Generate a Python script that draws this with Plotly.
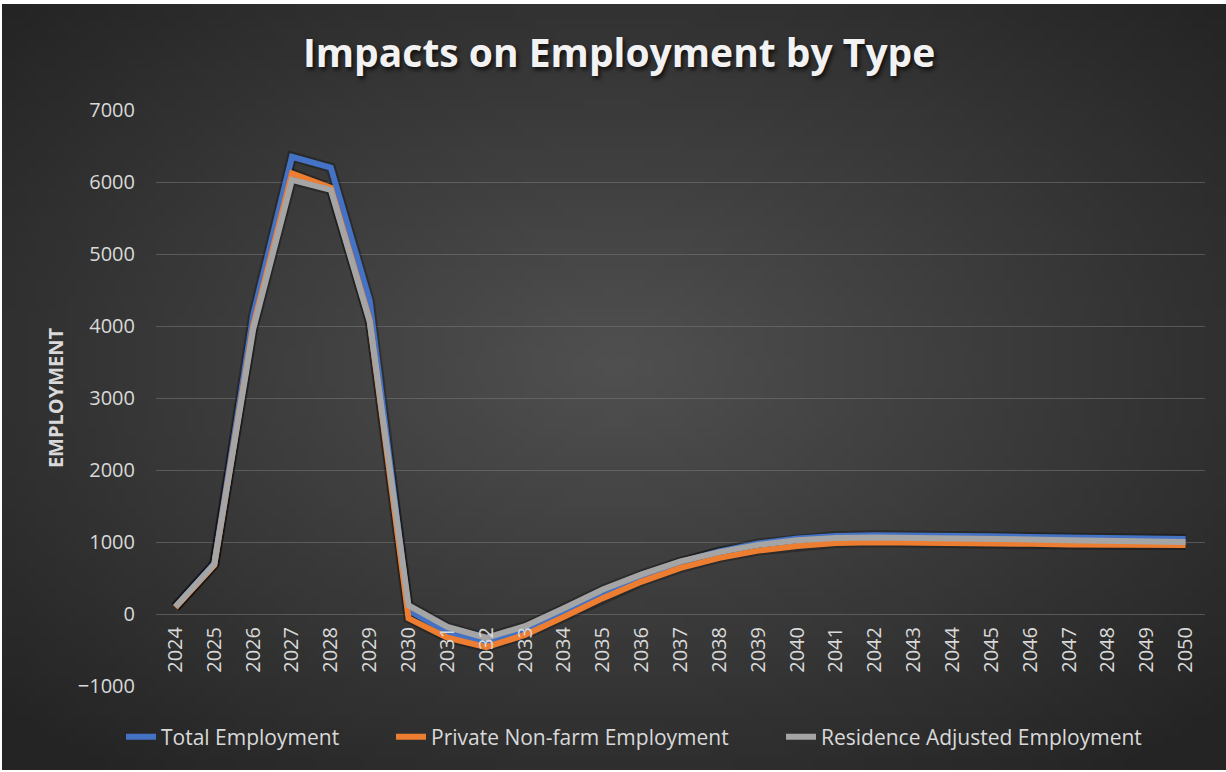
import base64, struct, zlib
import plotly.graph_objects as go

years = [str(y) for y in range(2024, 2051)]
total_employment = [100, 700, 4150, 6350, 6200, 4350, 50, -250, -400, -210, 40, 300, 530, 720, 870, 980, 1050, 1085, 1095, 1095, 1090, 1080, 1070, 1060, 1050, 1045, 1040]
private_nonfarm = [90, 680, 4000, 6120, 5920, 4080, -60, -330, -460, -290, -40, 220, 450, 640, 780, 880, 945, 985, 995, 995, 990, 980, 975, 965, 960, 960, 960]
residence_adjusted = [100, 690, 3950, 6030, 5890, 4060, 120, -180, -330, -170, 80, 340, 550, 730, 860, 960, 1025, 1055, 1062, 1060, 1055, 1045, 1035, 1025, 1015, 1005, 1000]
series_names = ["Total Employment", "Private Non-farm Employment", "Residence Adjusted Employment"]
series_colors = ["#4472C4", "#ED7D31", "#A5A5A5"]
y_ticks = [-1000, 0, 1000, 2000, 3000, 4000, 5000, 6000, 7000]


def gradient_png(w, h, c_center, c_edge):
    rows = []
    for j in range(h):
        row = bytearray([0])
        for i in range(w):
            dx = (i + 0.5) / w - 0.5
            dy = (j + 0.5) / h - 0.47
            d = min(1.0, ((dx * dx + dy * dy) ** 0.5) / 0.68)
            v = int(round(c_center + (c_edge - c_center) * d))
            row += bytes([v, v, v])
        rows.append(bytes(row))
    raw = b"".join(rows)

    def chunk(t, data):
        c = struct.pack(">I", len(data)) + t + data
        return c + struct.pack(">I", zlib.crc32(t + data) & 0xFFFFFFFF)

    png = b"\x89PNG\r\n\x1a\n"
    png += chunk(b"IHDR", struct.pack(">IIBBBBB", w, h, 8, 2, 0, 0, 0))
    png += chunk(b"IDAT", zlib.compress(raw, 9))
    png += chunk(b"IEND", b"")
    return "data:image/png;base64," + base64.b64encode(png).decode()


W, H = 1226, 772
ML, MR, MT, MB = 156, 21, 110, 86
PW, PH = W - ML - MR, H - MT - MB

fig = go.Figure()
data = [total_employment, private_nonfarm, residence_adjusted]
# soft shadows
for vals in data:
    fig.add_trace(go.Scatter(x=years, y=vals, mode="lines",
                             line=dict(color="rgba(0,0,0,0.28)", width=10),
                             showlegend=False, hoverinfo="skip"))
legend_ids = ["legend", "legend2", "legend3"]
legend_px = [121, 391, 781]
for name, vals, col, lg in zip(series_names, data, series_colors, legend_ids):
    fig.add_trace(go.Scatter(x=years, y=vals, mode="lines", name=name,
                             line=dict(color=col, width=6), legend=lg))

bg = gradient_png(123, 77, 80, 36)
fig.add_layout_image(dict(source=bg, xref="paper", yref="paper",
                          x=(2 - ML) / PW, y=(H - MB - 4) / PH,
                          sizex=(W - 2) / PW, sizey=(H - 4 - 2) / PH,
                          xanchor="left", yanchor="top", sizing="stretch",
                          layer="below"))

leg_common = dict(orientation="h", xanchor="left", y=(H - MB - 737) / PH, yanchor="middle",
                  font=dict(size=21, color="#d9d9d9"), bgcolor="rgba(0,0,0,0)")

fig.update_layout(
    width=W, height=H,
    margin=dict(l=ML, r=MR, t=MT, b=MB),
    paper_bgcolor="white",
    plot_bgcolor="rgba(0,0,0,0)",
    title=dict(text="<b>Impacts on Employment by Type</b>", x=0.505, xanchor="center",
               y=1 - 53 / H, yanchor="middle", yref="container",
               font=dict(family="Open Sans", size=39, color="#f2f2f2",
                         shadow="2px 3px 4px rgba(0,0,0,0.7)")),
    font=dict(family="Open Sans", color="#d9d9d9"),
    legend=dict(x=(legend_px[0] - ML) / PW, **leg_common),
    legend2=dict(x=(legend_px[1] - ML) / PW, **leg_common),
    legend3=dict(x=(legend_px[2] - ML) / PW, **leg_common),
    xaxis=dict(type="category", range=[-0.5, 26.5], anchor="free", position=0.125,
               tickangle=-90, showgrid=False, showline=False, zeroline=False,
               tickfont=dict(size=20, color="#d9d9d9"), ticks="", ticklabelstandoff=8),
    yaxis=dict(range=[-1000, 7000], tickvals=y_ticks, showgrid=True,
               gridcolor="rgba(120,120,120,0.55)", gridwidth=1.3, zeroline=False,
               showline=False, tickfont=dict(size=20, color="#d9d9d9"), ticks="",
               ticklabelstandoff=20,
               title=dict(text="<b>EMPLOYMENT</b>", font=dict(size=20, color="#d9d9d9"),
                          standoff=8)),
)

fig.write_html("out.html")
